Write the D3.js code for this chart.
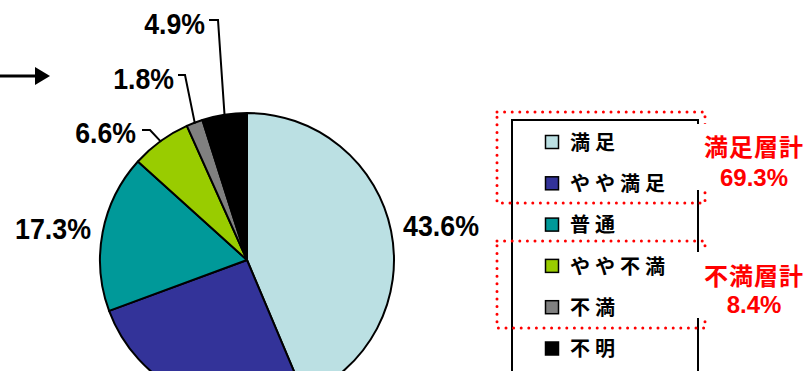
<!DOCTYPE html>
<html>
<head>
<meta charset="utf-8">
<script src="https://cdn.jsdelivr.net/npm/d3@7"></script>
<style>
  html, body { margin: 0; padding: 0; background: #fff; }
  svg { display: block; }
</style>
</head>
<body>
<svg id="chart" width="808" height="371"></svg>
<script>
// Satisfaction breakdown (%), clockwise from 12 o'clock
const categories = ["満足", "やや満足", "普通", "やや不満", "不満", "不明"];
const values = [43.6, 25.7, 17.3, 6.6, 1.8, 4.9];
const colors = ["#BBE0E3", "#333399", "#009999", "#99CC00", "#808080", "#000000"];

// Grouped totals shown beside the legend
const groupTitles = ["満足層計", "不満層計"];
const groupValues = [69.3, 8.4];

const svg = d3.select("#chart");
const cx = 247, cy = 260, R = 147;

const pie = d3.pie().sort(null).value(d => d.value);
const arcs = pie(categories.map((c, i) => ({ cat: c, value: values[i], color: colors[i] })));
const arc = d3.arc().innerRadius(0).outerRadius(R);

const g = svg.append("g").attr("transform", `translate(${cx},${cy})`);
g.selectAll("path.slice")
  .data(arcs)
  .enter().append("path")
  .attr("class", "slice")
  .attr("d", arc)
  .attr("fill", d => d.data.color)
  .attr("stroke", "#000")
  .attr("stroke-width", 2)
  .attr("stroke-linejoin", "round");

// Percentage labels (narrow, evenly spaced); small slices get a leader line
const fmt = d => d3.format(".1f")(d) + "%";
const labelFont = "'Liberation Sans', Arial, sans-serif";
const charW = 15.2;
const labelPlan = [
  { x: 403, y: 236, anchor: "start" },
  null,
  { x: 91, y: 239, anchor: "end" },
  { x: 136, y: 143, anchor: "end", elbow: [150, 130], tail: [142, 130] },
  { x: 174, y: 89, anchor: "end", elbow: [185, 75], tail: [178, 75] },
  { x: 205, y: 34, anchor: "end", elbow: [218, 20], tail: [209, 20] }
];

arcs.forEach((a, i) => {
  const p = labelPlan[i];
  if (!p) return;
  if (p.elbow) {
    const mid = (a.startAngle + a.endAngle) / 2;
    const sx = cx + (R - 1) * Math.sin(mid);
    const sy = cy - (R - 1) * Math.cos(mid);
    svg.append("path")
      .attr("d", d3.line()([[sx, sy], p.elbow, p.tail]))
      .attr("fill", "none")
      .attr("stroke", "#000")
      .attr("stroke-width", 2);
  }
  const s = fmt(a.data.value);
  svg.append("text")
    .attr("x", p.x)
    .attr("y", p.y)
    .attr("text-anchor", p.anchor)
    .attr("font-family", labelFont)
    .attr("font-weight", "bold")
    .attr("font-size", 29)
    .attr("textLength", s.length * charW)
    .attr("lengthAdjust", "spacingAndGlyphs")
    .text(s);
});

// Arrow at the left edge
svg.append("line")
  .attr("x1", 0).attr("y1", 76).attr("x2", 37).attr("y2", 76)
  .attr("stroke", "#000").attr("stroke-width", 3);
svg.append("path")
  .attr("d", "M35,67 L50,76 L35,85 Z")
  .attr("fill", "#000");

// Legend
const cjk = "'Noto Sans CJK JP', 'Noto Sans', sans-serif";
svg.append("rect")
  .attr("x", 512).attr("y", 120)
  .attr("width", 186).attr("height", 300)
  .attr("fill", "#fff").attr("stroke", "#000").attr("stroke-width", 2);

const legendY = d3.scalePoint().domain(categories).range([142.5, 349]);
const leg = svg.selectAll("g.leg")
  .data(categories)
  .enter().append("g")
  .attr("class", "leg")
  .attr("transform", d => `translate(0,${legendY(d)})`);
leg.append("rect")
  .attr("x", 545.5).attr("y", -7)
  .attr("width", 13).attr("height", 13)
  .attr("fill", (d, i) => colors[i])
  .attr("stroke", "#000").attr("stroke-width", 1.5);
leg.append("text")
  .attr("x", 570).attr("y", 0)
  .attr("dy", "0.36em")
  .attr("font-family", cjk)
  .attr("font-weight", "bold")
  .attr("font-size", 20)
  .attr("letter-spacing", 5)
  .attr("fill", "#000")
  .text(d => d);

// Dotted group brackets around the legend rows
const groups = [
  { y0: 112, y1: 203, cover: [124, 190], title: 147, value: 186 },
  { y0: 241, y1: 328, cover: [252, 318], title: 276, value: 313 }
];
groups.forEach(gp => {
  svg.append("rect")
    .attr("x", 497).attr("y", gp.y0)
    .attr("width", 208).attr("height", gp.y1 - gp.y0)
    .attr("fill", "none")
    .attr("stroke", "#FF0000")
    .attr("stroke-width", 3)
    .attr("stroke-linecap", "round")
    .attr("stroke-dasharray", "0 7.6");
});
groups.forEach((gp, i) => {
  svg.append("rect")
    .attr("x", 692).attr("y", gp.cover[0])
    .attr("width", 116).attr("height", gp.cover[1] - gp.cover[0])
    .attr("fill", "#fff");
  svg.append("text")
    .attr("x", 754).attr("y", gp.title)
    .attr("dy", "0.36em")
    .attr("text-anchor", "middle")
    .attr("font-family", cjk)
    .attr("font-weight", "bold")
    .attr("font-size", 24)
    .attr("letter-spacing", 1)
    .attr("fill", "#FF0000")
    .text(groupTitles[i]);
  svg.append("text")
    .attr("x", 754).attr("y", gp.value)
    .attr("text-anchor", "middle")
    .attr("font-family", labelFont)
    .attr("font-weight", "bold")
    .attr("font-size", 24)
    .attr("fill", "#FF0000")
    .text(d3.format(".1f")(groupValues[i]) + "%");
});
</script>
</body>
</html>
